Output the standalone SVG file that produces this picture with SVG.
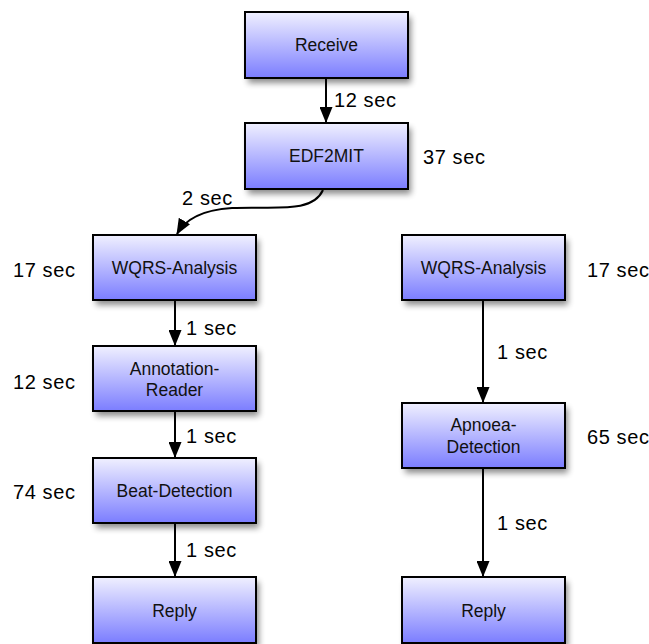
<svg xmlns="http://www.w3.org/2000/svg" width="649" height="644" viewBox="0 0 649 644">
  <style>
    .box { fill: url(#boxFill); stroke: #000; stroke-width: 2; }
    .shadow { fill: #000; opacity: 0.45; filter: url(#blur); }
    .name { font-family: "Liberation Sans", Arial, sans-serif; font-size: 17.5px; fill: #111; text-anchor: middle; }
    .lbl { font-family: "Liberation Sans", Arial, sans-serif; font-size: 20px; letter-spacing: 0.6px; fill: #000; }
    .edge { fill: none; stroke: #000; stroke-width: 2; marker-end: url(#arrow); }
  </style>
  <defs>
    <linearGradient id="boxFill" x1="0" y1="0" x2="0" y2="1">
      <stop offset="0" stop-color="#f0f0ff"/>
      <stop offset="1" stop-color="#7b7dff"/>
    </linearGradient>
    <filter id="blur" x="-20%" y="-20%" width="140%" height="160%">
      <feGaussianBlur stdDeviation="3"/>
    </filter>
    <marker id="arrow" viewBox="0 0 16 13" refX="15" refY="6.5" markerWidth="8" markerHeight="6.5" markerUnits="strokeWidth" orient="auto">
      <path d="M0,0 L16,6.5 L0,13 z" fill="#000"/>
    </marker>
  </defs>

  <rect width="649" height="644" fill="#fff"/>

  <g id="connectors">
    <path class="edge" d="M326,79 L326,122"/>
    <path class="edge" d="M323,190 C312,214 275,206 232,208 C200,210 185,220 177,234"/>
    <path class="edge" d="M175,301 L175,345"/>
    <path class="edge" d="M175,412 L175,457"/>
    <path class="edge" d="M175,524 L175,576"/>
    <path class="edge" d="M483,301 L483,402"/>
    <path class="edge" d="M483,469 L483,576"/>
    <text class="lbl" x="334" y="107">12 sec</text>
    <text class="lbl" x="182" y="205">2 sec</text>
    <text class="lbl" x="186" y="335">1 sec</text>
    <text class="lbl" x="186" y="443">1 sec</text>
    <text class="lbl" x="186" y="557">1 sec</text>
    <text class="lbl" x="497" y="359">1 sec</text>
    <text class="lbl" x="497" y="530">1 sec</text>
  </g>

  <g id="receive">
    <rect class="shadow" x="248" y="17" width="163" height="66"/>
    <rect class="box" x="245" y="12" width="163" height="66"/>
    <text class="name" x="326.5" y="51">Receive</text>
  </g>

  <g id="edf2mit">
    <rect class="shadow" x="248" y="128" width="163" height="66"/>
    <rect class="box" x="245" y="123" width="163" height="66"/>
    <text class="name" x="326.5" y="162">EDF2MIT</text>
    <text class="lbl" x="423" y="164">37 sec</text>
  </g>

  <g id="wqrs-left">
    <rect class="shadow" x="96" y="240" width="163" height="65"/>
    <rect class="box" x="93" y="235" width="163" height="65"/>
    <text class="name" x="174.5" y="274">WQRS-Analysis</text>
    <text class="lbl" x="13" y="277">17 sec</text>
  </g>

  <g id="annotation-reader">
    <rect class="shadow" x="96" y="351" width="163" height="65"/>
    <rect class="box" x="93" y="346" width="163" height="65"/>
    <text class="name" x="174.5" y="375">Annotation-</text>
    <text class="name" x="174.5" y="396">Reader</text>
    <text class="lbl" x="13" y="389">12 sec</text>
  </g>

  <g id="beat-detection">
    <rect class="shadow" x="96" y="463" width="163" height="65"/>
    <rect class="box" x="93" y="458" width="163" height="65"/>
    <text class="name" x="174.5" y="497">Beat-Detection</text>
    <text class="lbl" x="13" y="499">74 sec</text>
  </g>

  <g id="reply-left">
    <rect class="shadow" x="96" y="582" width="163" height="66"/>
    <rect class="box" x="93" y="577" width="163" height="66"/>
    <text class="name" x="174.5" y="617">Reply</text>
  </g>

  <g id="wqrs-right">
    <rect class="shadow" x="405" y="240" width="163" height="65"/>
    <rect class="box" x="402" y="235" width="163" height="65"/>
    <text class="name" x="483.5" y="274">WQRS-Analysis</text>
    <text class="lbl" x="587" y="277">17 sec</text>
  </g>

  <g id="apnoea-detection">
    <rect class="shadow" x="405" y="408" width="163" height="65"/>
    <rect class="box" x="402" y="403" width="163" height="65"/>
    <text class="name" x="483.5" y="431">Apnoea-</text>
    <text class="name" x="483.5" y="453">Detection</text>
    <text class="lbl" x="587" y="444">65 sec</text>
  </g>

  <g id="reply-right">
    <rect class="shadow" x="405" y="582" width="163" height="66"/>
    <rect class="box" x="402" y="577" width="163" height="66"/>
    <text class="name" x="483.5" y="617">Reply</text>
  </g>
</svg>
